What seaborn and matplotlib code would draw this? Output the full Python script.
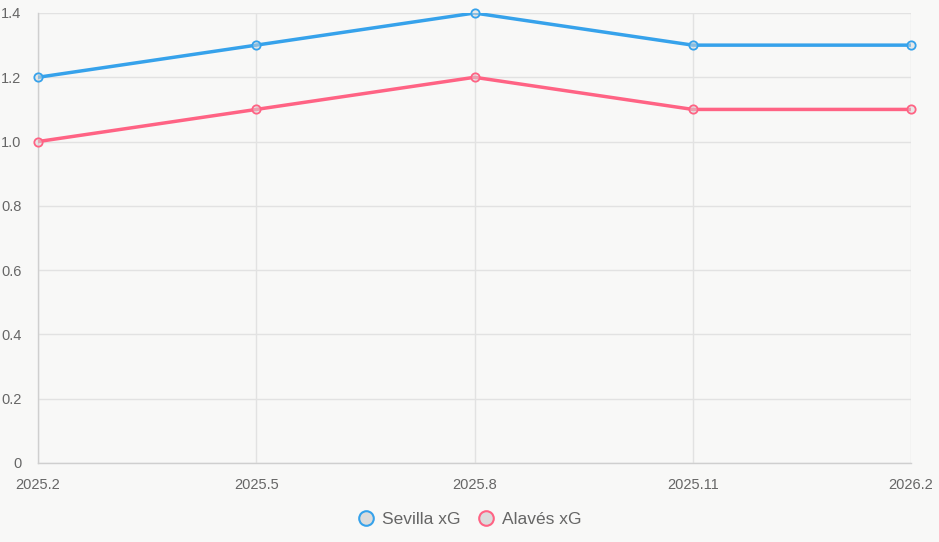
import pandas as pd
import seaborn as sns
import matplotlib.pyplot as plt
from matplotlib.lines import Line2D

# Datos
fechas = ["2025.2", "2025.5", "2025.8", "2025.11", "2026.2"]
sevilla_xg = [1.2, 1.3, 1.4, 1.3, 1.3]
alaves_xg = [1.0, 1.1, 1.2, 1.1, 1.1]

azul = "#36a2eb"
rosa = "#ff6384"
fondo = "#f8f8f7"

data = pd.DataFrame({
    "pos": list(range(len(fechas))) * 2,
    "xg": sevilla_xg + alaves_xg,
    "equipo": ["Sevilla xG"] * len(fechas) + ["Alavés xG"] * len(fechas),
})

sns.set_style("white")
plt.rcParams["font.family"] = ["Liberation Sans", "DejaVu Sans"]

fig = plt.figure(figsize=(9.39, 5.42), dpi=100, facecolor=fondo)
ax = fig.add_axes([38 / 939, 79 / 542, 873 / 939, 450 / 542])
ax.set_facecolor(fondo)

sns.lineplot(data=data, x="pos", y="xg", hue="equipo",
             palette={"Sevilla xG": azul, "Alavés xG": rosa},
             linewidth=2.5, legend=False, ax=ax, zorder=3)

# Puntos
for serie, color in [(sevilla_xg, azul), (alaves_xg, rosa)]:
    ax.plot(range(len(fechas)), serie, linestyle="none", marker="o",
            markersize=6, markerfacecolor=(0.85, 0.85, 0.85, 0.5),
            markeredgecolor=color, markeredgewidth=1.3, zorder=4, clip_on=False)

ax.set_xlim(0, len(fechas) - 1)
ax.set_ylim(0, 1.4)
ax.set_xticks(range(len(fechas)))
ax.set_xticklabels(fechas)
ax.set_yticks([0, 0.2, 0.4, 0.6, 0.8, 1.0, 1.2, 1.4])
ax.set_yticklabels(["0", "0.2", "0.4", "0.6", "0.8", "1.0", "1.2", "1.4"])
ax.set_xlabel("")
ax.set_ylabel("")

ax.grid(True, color="#e2e2e2", linewidth=1)
ax.set_axisbelow(True)
ax.tick_params(axis="both", length=8, width=1, color="#e2e2e2",
               labelcolor="#666666", labelsize=10.5)
ax.tick_params(axis="x", pad=3)
ax.tick_params(axis="y", pad=4)
for lado in ["top", "right"]:
    ax.spines[lado].set_visible(False)
for lado in ["left", "bottom"]:
    ax.spines[lado].set_color("#cfcfcf")
    ax.spines[lado].set_linewidth(1)

# Leyenda
handles = [
    Line2D([], [], linestyle="none", marker="o", markersize=10.5,
           markerfacecolor="#dcdcdc", markeredgecolor=c, markeredgewidth=1.5, label=l)
    for c, l in [(azul, "Sevilla xG"), (rosa, "Alavés xG")]
]
fig.legend(handles=handles, loc="center", bbox_to_anchor=(0.5, 1 - 519 / 542),
           ncol=2, frameon=False, fontsize=12.5, labelcolor="#666666",
           handletextpad=0.4, columnspacing=1.0, handlelength=1.0)

plt.savefig("out.png", dpi=100, facecolor=fondo)
plt.close()
